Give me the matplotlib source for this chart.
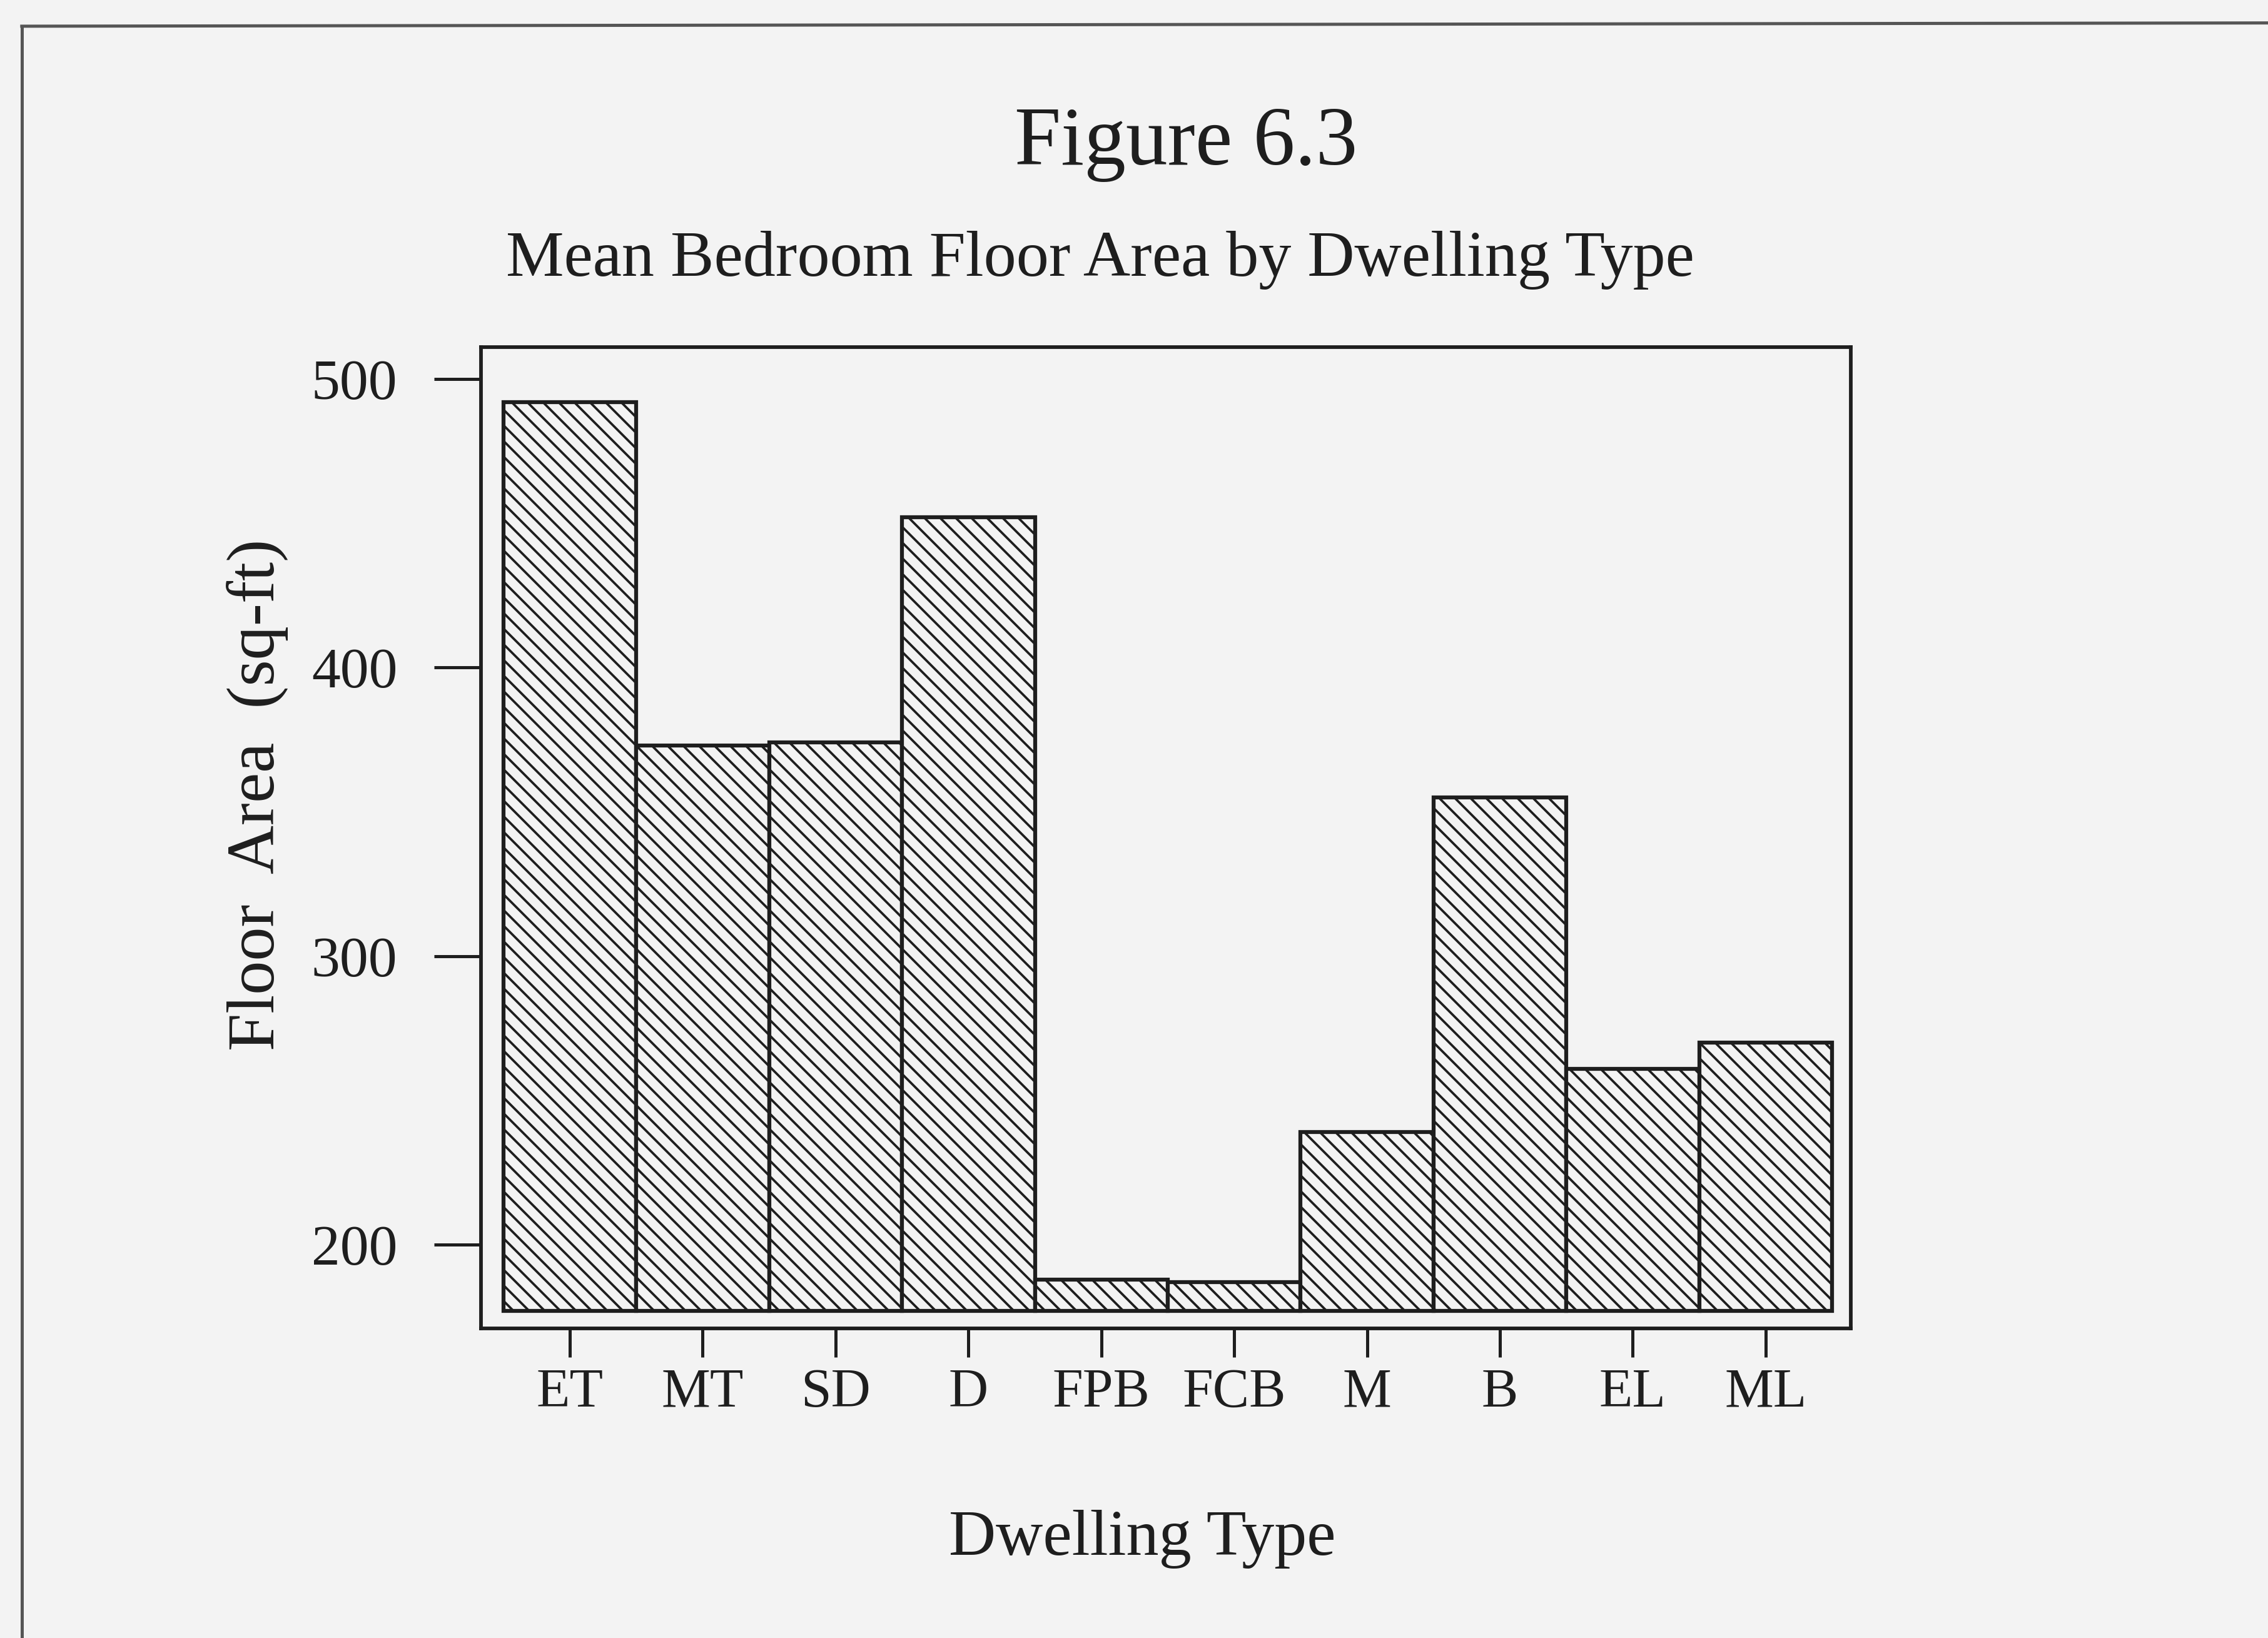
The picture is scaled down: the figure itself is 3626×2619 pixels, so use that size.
import numpy as np
import matplotlib
matplotlib.use("Agg")
import matplotlib.pyplot as plt
from matplotlib.lines import Line2D

# mean bedroom floor area (sq-ft) per dwelling type
dwelling_types = ["ET", "MT", "SD", "D", "FPB", "FCB", "M", "B", "EL", "ML"]
floor_area = [492, 373, 374, 452, 188, 187, 239, 355, 261, 270]
bar_base = 177          # bars start here, not at the axis edge
y_ticks = [200, 300, 400, 500]

BG = "#f3f3f3"
INK = "#1e1e1e"
SERIF = ["Liberation Serif", "DejaVu Serif"]

plt.rcParams["font.family"] = SERIF
plt.rcParams["hatch.color"] = "#8c8c8c"
plt.rcParams["hatch.linewidth"] = 0.9

fig = plt.figure(figsize=(3626 / 300, 2619 / 300), dpi=300, facecolor=BG)
ax = fig.add_axes([0.212, 0.189, 0.604, 0.599], facecolor=BG)

x = np.arange(len(dwelling_types))
heights = np.array(floor_area) - bar_base
ax.bar(x, heights, bottom=bar_base, width=1.0, color=BG,
       edgecolor=INK, linewidth=1.5, hatch="\\\\\\\\")

ax.set_xlim(-0.67, 9.64)
ax.set_ylim(171, 511)
ax.set_yticks(y_ticks)
ax.set_yticklabels([str(v) for v in y_ticks], fontsize=22)
ax.set_xticks(x)
ax.set_xticklabels(dwelling_types, fontsize=21)

ax.tick_params(axis="y", length=18, width=1.2, pad=14, colors=INK)
ax.tick_params(axis="x", length=11, width=1.2, pad=4, colors=INK)
for s in ax.spines.values():
    s.set_linewidth(1.4)
    s.set_color(INK)

ax.set_xlabel("Dwelling Type", fontsize=25, color=INK)
ax.xaxis.set_label_coords(0.483, -0.215)
ax.xaxis.label.set_va("center")
ax.set_ylabel("Floor  Area  (sq-ft)", fontsize=26, color=INK)
ax.yaxis.set_label_coords(-0.163, 0.544)
ax.yaxis.label.set_va("center")

fig.text(0.523, 0.912, "Figure 6.3", fontsize=32, ha="center", va="center",
         color=INK)
fig.text(0.485, 0.841, "Mean Bedroom Floor Area by Dwelling Type",
         fontsize=25, ha="center", va="center", color=INK)

# page border of the scanned sheet
fig.add_artist(Line2D([0.0096, 0.0096], [0.0, 0.984], color="#555555",
                      lw=1.2, transform=fig.transFigure))
fig.add_artist(Line2D([0.0096, 1.0], [0.984, 0.986], color="#555555",
                      lw=1.2, transform=fig.transFigure))

fig.savefig("out.png", dpi=300, facecolor=BG)
